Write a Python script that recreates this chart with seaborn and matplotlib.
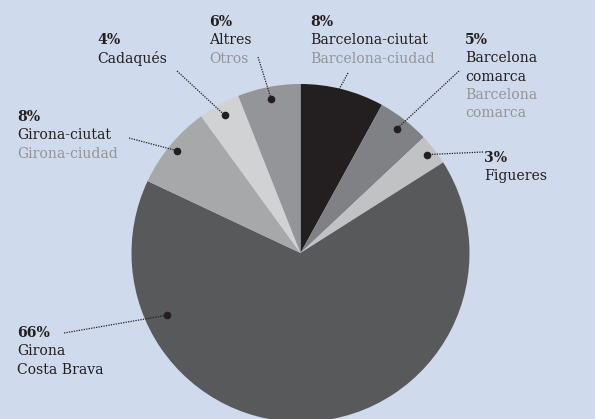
import numpy as np
import matplotlib
matplotlib.use("Agg")
import matplotlib.pyplot as plt
import seaborn as sns

# ---- data ----
labels_ca = ["Barcelona-ciutat", "Barcelona\ncomarca", "Figueres", "Girona\nCosta Brava",
             "Girona-ciutat", "Cadaqués", "Altres"]
labels_es = ["Barcelona-ciudad", "Barcelona\ncomarca", "", "", "Girona-ciudad", "", "Otros"]
values = [8, 5, 3, 66, 8, 4, 6]
colors = ["#231f20", "#808184", "#c1c2c4", "#58595b", "#a7a8aa", "#d1d2d4", "#939598"]

BG = "#cfdaed"
DARK = "#231f20"
GREY = "#939598"

sns.set_theme(style="white")
plt.rcParams["font.family"] = ["DejaVu Serif"]

W, H = 595, 419
fig = plt.figure(figsize=(W / 100, H / 100), dpi=100, facecolor=BG)
ax = fig.add_axes([0, 0, 1, 1])
ax.set_facecolor(BG)

cx, cy, R = 300.5, H - 253, 169
wedges, _ = ax.pie(values, colors=colors, startangle=90, counterclock=False,
                   center=(cx, cy), radius=R,
                   wedgeprops=dict(linewidth=0))
ax.set_xlim(0, W)
ax.set_ylim(0, H)
ax.set_aspect("equal")
ax.axis("off")

# label layout: (text x, text top y in px), dot angle override (deg, matplotlib), dot radius frac, leader end
layout = [
    ((310, 14), 78.0, 0.92, (348, 73)),
    ((465, 32), None, 0.93, (459, 71)),
    ((484, 150), None, 0.95, (483, 152)),
    ((17, 325), 205.0, 0.87, (64, 333)),
    ((17, 109), None, 0.95, (129, 138)),
    ((97, 32), None, 0.93, (177, 71)),
    ((209, 14), None, 0.93, (258, 57)),
]

lh = 18.3
fs = 10.1
for w, v, ca, es, (pos, ang, rf, lend) in zip(wedges, values, labels_ca, labels_es, layout):
    theta = ang if ang is not None else (w.theta1 + w.theta2) / 2
    t = np.deg2rad(theta)
    dx, dy = cx + rf * R * np.cos(t), cy + rf * R * np.sin(t)
    ax.plot([lend[0], dx], [H - lend[1], dy], color=DARK, lw=0.9,
            linestyle=(0, (1, 1)), zorder=5)
    ax.plot(dx, dy, "o", color=DARK, ms=4.5, zorder=6)
    x, y = pos
    lines = [(f"{v}%", DARK, "bold")]
    lines += [(s, DARK, "normal") for s in ca.split("\n")]
    if es:
        lines += [(s, GREY, "normal") for s in es.split("\n")]
    for i, (s, c, wt) in enumerate(lines):
        ax.text(x, H - (y + 8 + i * lh), s, color=c, fontsize=fs, fontweight=wt,
                ha="left", va="center")

fig.savefig("out.png", dpi=100, facecolor=BG)
